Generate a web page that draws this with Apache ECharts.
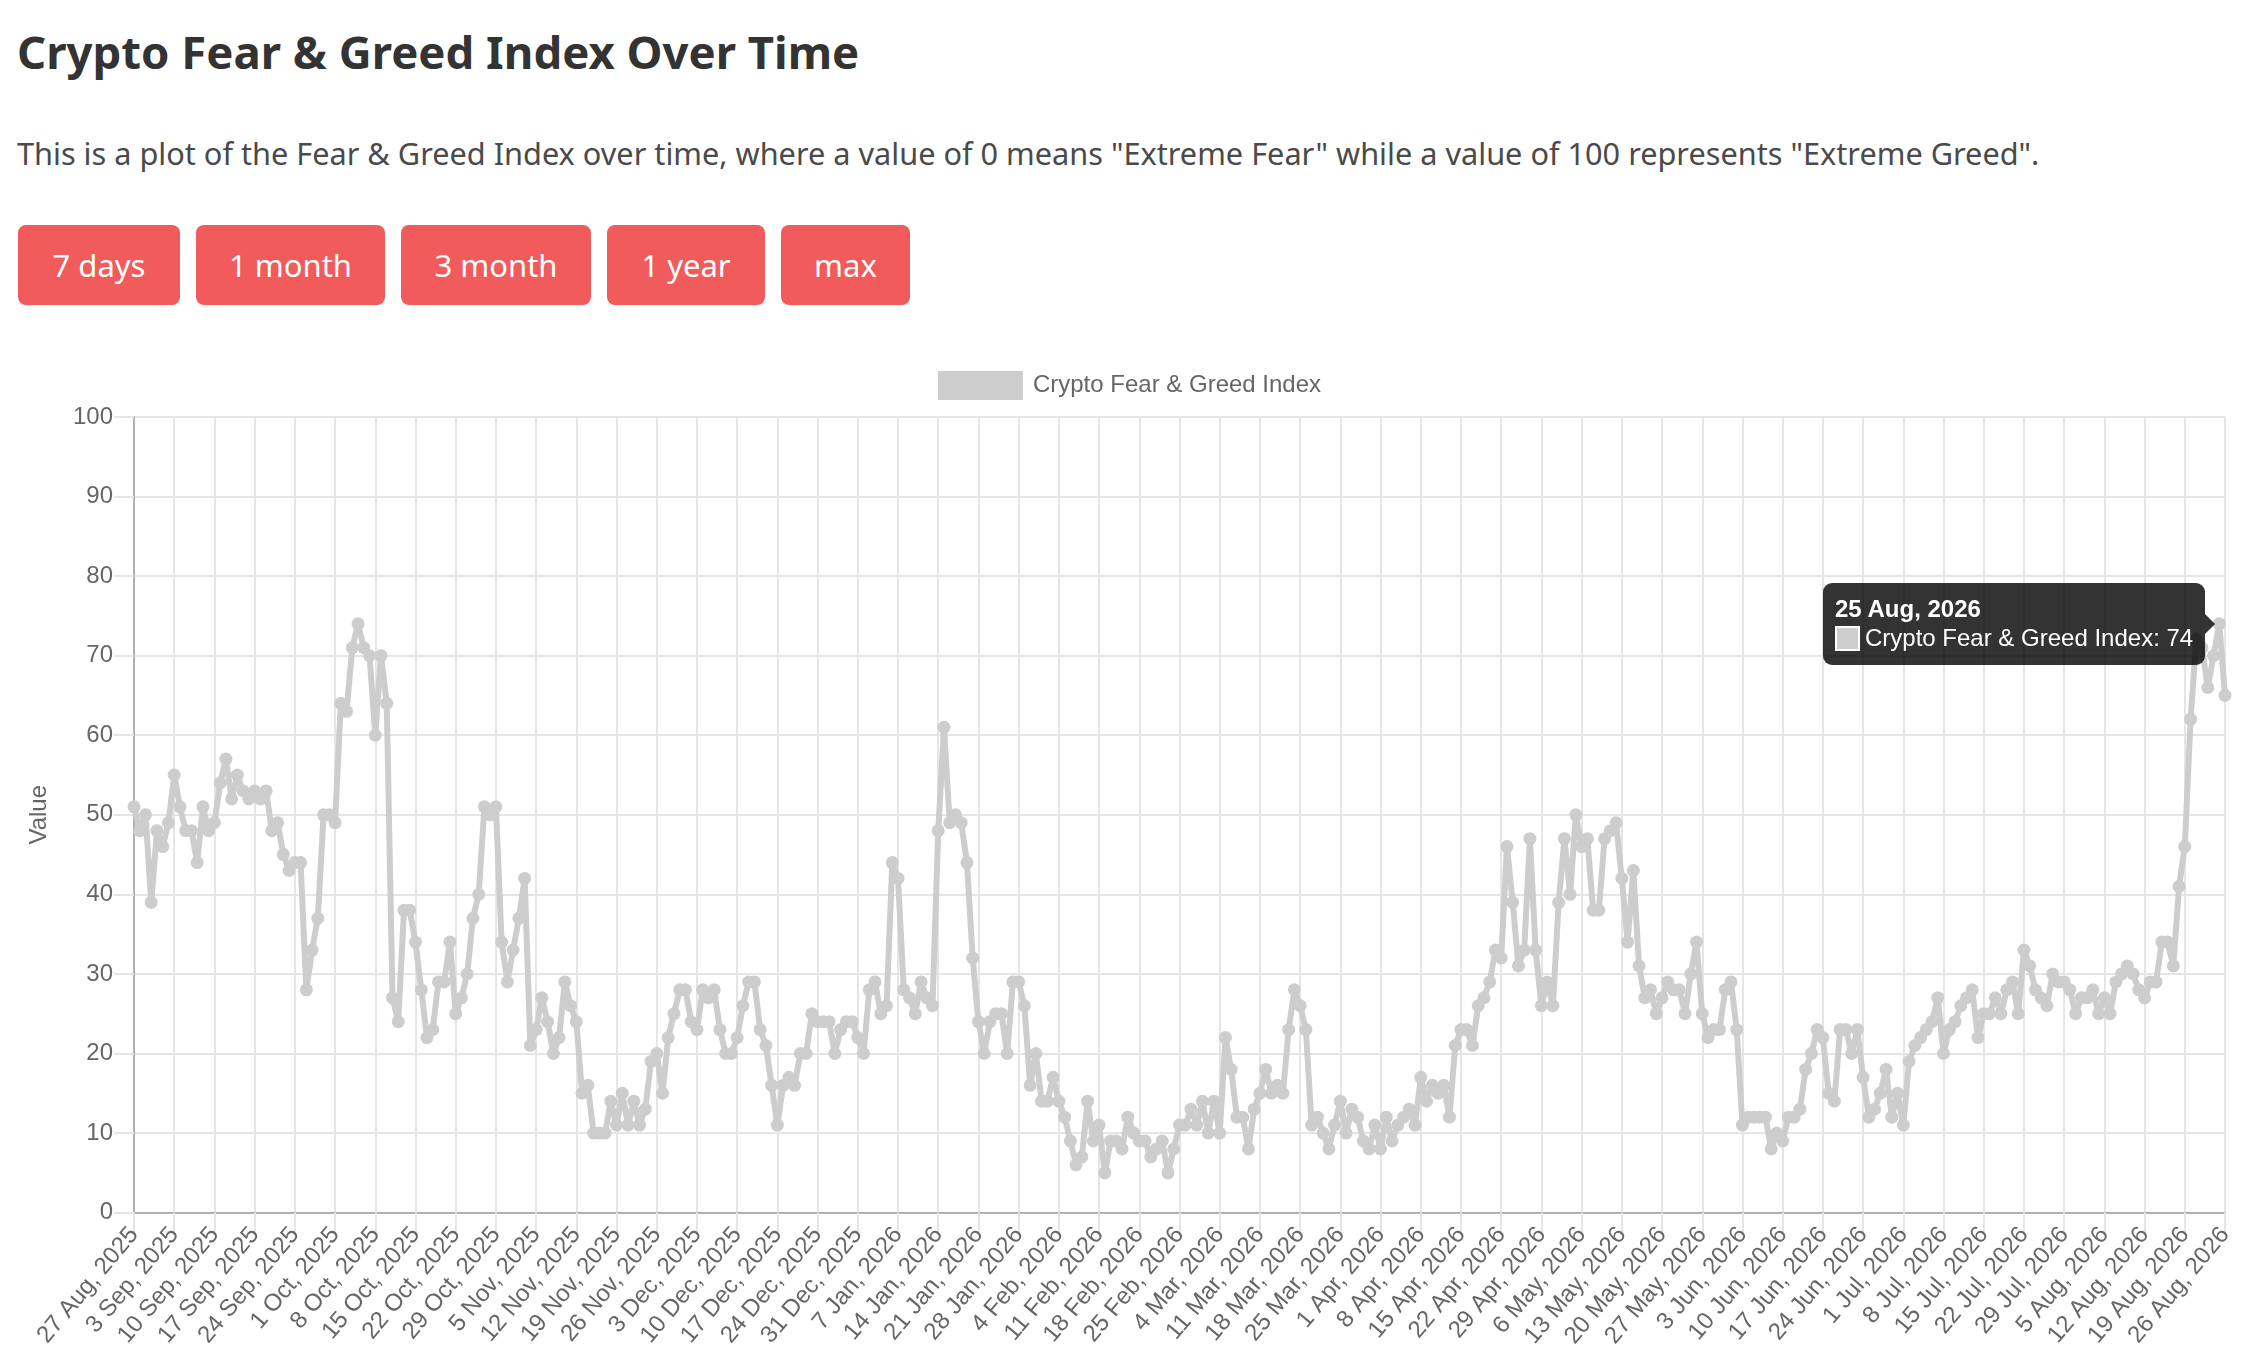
<!DOCTYPE html>
<html>
<head>
<meta charset="utf-8">
<script src="https://cdn.jsdelivr.net/npm/echarts@6/dist/echarts.min.js"></script>
<style>
html,body{margin:0;padding:0;background:#fff;width:2259px;height:1370px;overflow:hidden;}
#title{position:absolute;left:17px;top:29px;font:700 45.5px "Noto Sans",sans-serif;line-height:1;color:#333;white-space:nowrap;}
#sub{position:absolute;left:17px;top:138px;font:400 30.7px "Noto Sans",sans-serif;line-height:1;color:#4a4a4a;white-space:nowrap;}
.btn{position:absolute;top:225px;height:80px;text-align:center;background:#f25b5b;color:#fff;border-radius:8px;font:400 31px "Noto Sans",sans-serif;line-height:80px;}
#chart{position:absolute;left:0;top:350px;width:2259px;height:1020px;}
.fg-tip::after{content:"";position:absolute;right:-10px;top:50%;margin-top:-10px;border-top:10px solid transparent;border-bottom:10px solid transparent;border-left:10px solid rgba(0,0,0,0.8);}
</style>
</head>
<body>
<div id="title">Crypto Fear &amp; Greed Index Over Time</div>
<div id="sub">This is a plot of the Fear &amp; Greed Index over time, where a value of 0 means "Extreme Fear" while a value of 100 represents "Extreme Greed".</div>
<div id="buttons"></div>
<div id="chart"></div>
<script>
// ---- data (daily index values) ----
const START_DATE = [2025, 7, 27]; // 27 Aug 2025 (month 0-based)
const SERIES_NAME = 'Crypto Fear & Greed Index';
const BUTTON_LABELS = ['7 days', '1 month', '3 month', '1 year', 'max'];
const MONTH_NAMES = ['Jan','Feb','Mar','Apr','May','Jun','Jul','Aug','Sep','Oct','Nov','Dec'];

const aug2025 = [51,48,50,39,48];
const sep2025 = [46,49,55,51,48,48,44,51,48,49,54,57,52,55,53,52,53,52,53,48,49,45,43,44,44,28,33,37,50,50];
const oct2025 = [49,64,63,71,74,71,70,60,70,64,27,24,38,38,34,28,22,23,29,29,34,25,27,30,37,40,51,50,51,34,29];
const nov2025 = [33,37,42,21,23,27,24,20,22,29,26,24,15,16,10,10,10,14,11,15,11,14,11,13,19,20,15,22,25,28];
const dec2025 = [28,24,23,28,27,28,23,20,20,22,26,29,29,23,21,16,11,16,17,16,20,20,25,24,24,24,20,23,24,24,22];
const jan2026 = [20,28,29,25,26,44,42,28,27,25,29,27,26,48,61,49,50,49,44,32,24,20,24,25,25,20,29,29,26,16,20];
const feb2026 = [14,14,17,14,12,9,6,7,14,9,11,5,9,9,8,12,10,9,9,7,8,9,5,8,11,11,13,11];
const mar2026 = [14,10,14,10,22,18,12,12,8,13,15,18,15,16,15,23,28,26,23,11,12,10,8,11,14,10,13,12,9,8,11];
const apr2026 = [8,12,9,11,12,13,11,17,14,16,15,16,12,21,23,23,21,26,27,29,33,32,46,39,31,33,47,33,26,29];
const may2026 = [26,39,47,40,50,46,47,38,38,47,48,49,42,34,43,31,27,28,25,27,29,28,28,25,30,34,25,22,23,23,28];
const jun2026 = [29,23,11,12,12,12,12,8,10,9,12,12,13,18,20,23,22,15,14,23,23,20,23,17,12,13,15,18,12,15];
const jul2026 = [11,19,21,22,23,24,27,20,23,24,26,27,28,22,25,25,27,25,28,29,25,33,31,28,27,26,30,29,29,28,25];
const aug2026 = [27,27,28,25,27,25,29,30,31,30,28,27,29,29,34,34,31,41,46,62,72,71,66,70,74,65];

const values = [].concat(aug2025, sep2025, oct2025, nov2025, dec2025, jan2026, feb2026,
                         mar2026, apr2026, may2026, jun2026, jul2026, aug2026);

// category labels: one per day, "27 Aug, 2025"
const dates = values.map(function (v, i) {
  const d = new Date(Date.UTC(START_DATE[0], START_DATE[1], START_DATE[2] + i));
  return d.getUTCDate() + ' ' + MONTH_NAMES[d.getUTCMonth()] + ', ' + d.getUTCFullYear();
});
const TOOLTIP_INDEX = values.length - 2; // 25 Aug 2026 shown in the tooltip

// ---- buttons ----
const btnLeft = [18, 196, 401, 607, 781];
const btnWidth = [162, 189, 190, 158, 129];
const bwrap = document.getElementById('buttons');
BUTTON_LABELS.forEach(function (t, i) {
  const b = document.createElement('div');
  b.className = 'btn';
  b.style.left = btnLeft[i] + 'px';
  b.style.width = btnWidth[i] + 'px';
  b.textContent = t;
  bwrap.appendChild(b);
});

// ---- chart ----
const FONT = '"Liberation Sans", Arial, Helvetica, sans-serif';
const LINE_COLOR = '#cdcdcd';
const chart = echarts.init(document.getElementById('chart'), null, {renderer: 'canvas'});
const option = {
  animation: false,
  textStyle: {fontFamily: FONT},
  legend: {
    top: 16, left: 'center', icon: 'rect', itemWidth: 85, itemHeight: 29,
    textStyle: {fontSize: 24, color: '#666', fontFamily: FONT, padding: [0, 0, 0, 5]},
    data: [{name: SERIES_NAME, itemStyle: {color: LINE_COLOR}}]
  },
  grid: {left: 134, right: 34, top: 67, bottom: 157.4},
  tooltip: {
    trigger: 'item', triggerOn: 'none', alwaysShowContent: true, transitionDuration: 0,
    backgroundColor: 'rgba(0,0,0,0.8)', borderWidth: 0, borderColor: 'transparent',
    padding: [12, 12, 12, 12], className: 'fg-tip',
    extraCssText: 'border-radius:9px;box-shadow:none;',
    textStyle: {color: '#fff', fontSize: 24, fontFamily: FONT},
    position: function (point, params, dom, rect, size) {
      return [point[0] - size.contentSize[0] - 14, point[1] - size.contentSize[1] / 2];
    },
    formatter: function (p) {
      const ff = FONT.replace(/"/g, "'");
      return '<div style="font-weight:bold;line-height:28px;font-family:' + ff + '">' + p.name + '</div>' +
        '<div style="line-height:30px;display:flex;align-items:center;font-family:' + ff + '">' +
        '<span style="display:inline-block;width:21px;height:21px;background:' + LINE_COLOR + ';border:2px solid #fff;margin-right:5px"></span>' +
        p.seriesName + ': ' + p.value + '</div>';
    }
  },
  xAxis: {
    type: 'category', data: dates, boundaryGap: false,
    axisLine: {lineStyle: {color: '#b0b0b0', width: 2}},
    axisTick: {interval: 6, length: 20, lineStyle: {color: '#e5e5e5', width: 2}},
    axisLabel: {interval: 6, rotate: 50, fontSize: 24, color: '#666', margin: 18, fontFamily: FONT},
    splitLine: {show: true, interval: 6, lineStyle: {color: '#e5e5e5', width: 2}}
  },
  yAxis: {
    type: 'value', min: 0, max: 100, interval: 10,
    name: 'Value', nameLocation: 'middle', nameGap: 83, nameRotate: 90,
    nameTextStyle: {fontSize: 24, color: '#666', fontFamily: FONT},
    axisLine: {show: true, lineStyle: {color: '#b0b0b0', width: 2}},
    axisTick: {show: true, length: 20, lineStyle: {color: '#e5e5e5', width: 2}},
    axisLabel: {fontSize: 24, color: '#666', margin: 21, fontFamily: FONT},
    splitLine: {lineStyle: {color: '#e5e5e5', width: 2}}
  },
  series: [{
    name: SERIES_NAME, type: 'line', data: values,
    symbol: 'circle', symbolSize: 13, showAllSymbol: true,
    lineStyle: {color: LINE_COLOR, width: 6},
    itemStyle: {color: LINE_COLOR},
    emphasis: {disabled: true}
  }]
};
chart.setOption(option);
chart.dispatchAction({type: 'showTip', seriesIndex: 0, dataIndex: TOOLTIP_INDEX});
</script>
</body>
</html>
